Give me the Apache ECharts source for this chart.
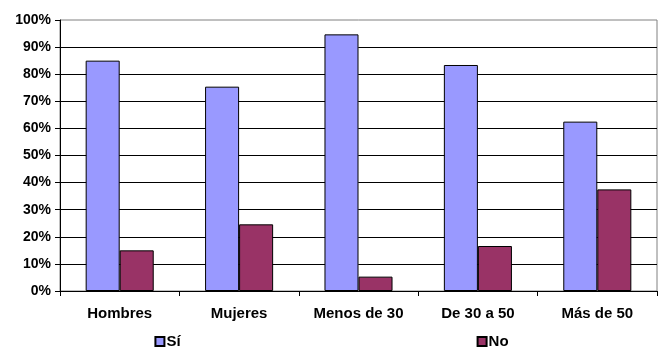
<!DOCTYPE html>
<html><head><meta charset="utf-8">
<script src="https://cdn.jsdelivr.net/npm/echarts@6/dist/echarts.min.js"></script>
<style>html,body{margin:0;padding:0;background:#fff}#c{width:663px;height:360px}</style>
</head><body><div id="c"></div>
<script>
const categories = ['Hombres', 'Mujeres', 'Menos de 30', 'De 30 a 50', 'Más de 50'];
const seriesNames = ['Sí', 'No'];
const siValues = [85, 75.4, 94.7, 83.4, 62.5];
const noValues = [15, 24.6, 5.3, 16.6, 37.5];
const yTicks = [0, 10, 20, 30, 40, 50, 60, 70, 80, 90, 100];

const font = 'Liberation Sans, Arial, sans-serif';
const chart = echarts.init(document.getElementById('c'), null, {renderer: 'canvas'});
chart.setOption({
  animation: false,
  backgroundColor: '#fff',
  grid: {left: 60, right: 6, top: 20, bottom: 69, show: true, borderColor: '#808080', borderWidth: 1},
  legend: {
    data: seriesNames, bottom: 6, left: 'center', itemGap: 296, itemWidth: 9, itemHeight: 9,
    icon: 'rect',
    textStyle: {fontFamily: font, fontSize: 15, fontWeight: 'bold', color: '#000', padding: [0,0,0,-3]}
  },
  xAxis: {
    type: 'category', data: categories,
    axisLine: {lineStyle: {color: '#000', width: 1}},
    axisTick: {show: true, length: 5, lineStyle: {color: '#000'}},
    axisLabel: {fontFamily: font, fontSize: 15, fontWeight: 'bold', color: '#000', margin: 15}
  },
  yAxis: {
    type: 'value', min: yTicks[0], max: yTicks[yTicks.length-1], interval: 10,
    axisLine: {show: true, lineStyle: {color: '#000', width: 1}},
    axisTick: {show: true, length: 5, lineStyle: {color: '#000'}},
    axisLabel: {fontFamily: font, fontSize: 14, fontWeight: 'bold', color: '#000', margin: 9, formatter: v => v + '%'},
    splitLine: {show: true, showMaxLine: false, lineStyle: {color: '#000', width: 1}}
  },
  series: [
    {name: seriesNames[0], type: 'bar', data: siValues, barGap: '0%', barCategoryGap: '43%',
     itemStyle: {color: '#9999FF', borderColor: '#000', borderWidth: 1}},
    {name: seriesNames[1], type: 'bar', data: noValues,
     itemStyle: {color: '#993366', borderColor: '#000', borderWidth: 1}}
  ]
});
</script></body></html>
